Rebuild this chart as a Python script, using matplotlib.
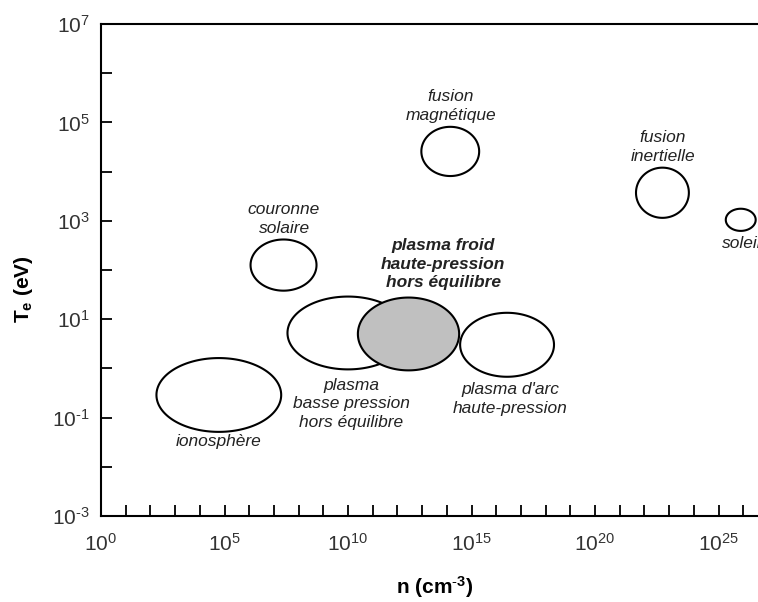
import numpy as np
import matplotlib
matplotlib.use("Agg")
import matplotlib.pyplot as plt

plt.rcParams['font.family'] = ['Liberation Sans', 'DejaVu Sans']
plt.rcParams['mathtext.fontset'] = 'custom'
plt.rcParams['mathtext.rm'] = 'Liberation Sans'
plt.rcParams['mathtext.it'] = 'Liberation Sans:italic'
plt.rcParams['mathtext.bf'] = 'Liberation Sans:bold'
plt.rcParams['mathtext.default'] = 'regular'
plt.rcParams['axes.unicode_minus'] = False

# Plasma domains: centre (log10 n, log10 Te) and extent (decades)
names = ["ionosphère", "basse pression", "plasma froid", "plasma d'arc",
         "couronne solaire", "fusion magnétique", "fusion inertielle", "soleil"]
log_n = [4.77, 10.0, 12.45, 16.44, 7.39, 14.14, 22.73, 25.9]
log_T = [-0.54, 0.72, 0.70, 0.48, 2.10, 4.41, 3.57, 3.02]
width_dec = [5.05, 4.9, 4.1, 3.8, 2.67, 2.34, 2.14, 1.21]
height_dec = [1.5, 1.48, 1.48, 1.3, 1.04, 1.0, 1.02, 0.45]
fills = ["white", "white", "#c0c0c0", "white", "white", "white", "white", "white"]

# Labels
label_text = ["ionosphère", "plasma\nbasse pression\nhors équilibre",
              "plasma froid\nhaute-pression\nhors équilibre",
              "plasma d'arc\nhaute-pression", "couronne\nsolaire",
              "fusion\nmagnétique", "fusion\ninertielle", "soleil"]
label_log_n = [4.78, 10.12, 13.85, 16.56, 7.41, 14.17, 22.75, 25.95]
label_log_T = [-1.48, -0.72, 2.12, -0.62, 3.04, 5.33, 4.5, 2.53]
label_bold = [False, False, True, False, False, False, False, False]

x_ticks = list(range(0, 27))
x_labels_at = [0, 5, 10, 15, 20, 25]
y_ticks = list(range(-3, 8))
y_labels_at = [-3, -1, 1, 3, 5, 7]


def exp_label(k):
    s = str(k).replace('-', r'\text{-}')
    return r'$10^{%s}$' % s


fig = plt.figure(figsize=(7.58, 6.02), dpi=100)
ax = fig.add_axes([101/758, 86/602, 1 - 101/758, 492/602])
ax.set_xscale('log')
ax.set_yscale('log')
ax.set_xlim(1, 10**((758 - 101) / 24.7))
ax.set_ylim(1e-3, 1e7)

t = np.linspace(0, 2*np.pi, 300)
for cx, cy, w, h, fc in zip(log_n, log_T, width_dec, height_dec, fills):
    xs = 10**(cx + w/2*np.cos(t))
    ys = 10**(cy + h/2*np.sin(t))
    ax.fill(xs, ys, facecolor=fc, edgecolor='black', linewidth=1.5, zorder=2)

for txt, lx, ly, b in zip(label_text, label_log_n, label_log_T, label_bold):
    ax.text(10**lx, 10**ly, txt, ha='center', va='center', fontsize=12.5,
            style='italic', fontweight='bold' if b else 'normal',
            color='#222222', linespacing=1.3, zorder=3, clip_on=False)

ax.set_xticks([10.0**k for k in x_ticks])
ax.set_xticklabels([exp_label(k) if k in x_labels_at else '' for k in x_ticks])
ax.set_yticks([10.0**k for k in y_ticks])
ax.set_yticklabels([exp_label(k) if k in y_labels_at else '' for k in y_ticks])
ax.minorticks_off()
ax.tick_params(axis='both', which='major', direction='in', length=8, width=1.3,
               labelsize=15, colors='black', labelcolor='#333333')
ax.tick_params(axis='x', pad=12)
ax.tick_params(axis='y', pad=8)
ax.tick_params(top=False, right=False)

for s in ['left', 'bottom', 'top']:
    ax.spines[s].set_linewidth(1.5)
ax.spines['right'].set_visible(False)

ax.set_xlabel(r'n (cm$^{\mathbf{\text{-}3}}$)', fontsize=15, fontweight='bold')
ax.set_ylabel(r'$\mathbf{T_e}$ (eV)', fontsize=15, fontweight='bold')
ax.xaxis.set_label_coords((435 - 101) / 657, (516 - 574) / 492)
ax.yaxis.set_label_coords((35 - 101) / 657, 1 - (289 - 24) / 492)

fig.savefig('out.png', dpi=100)
